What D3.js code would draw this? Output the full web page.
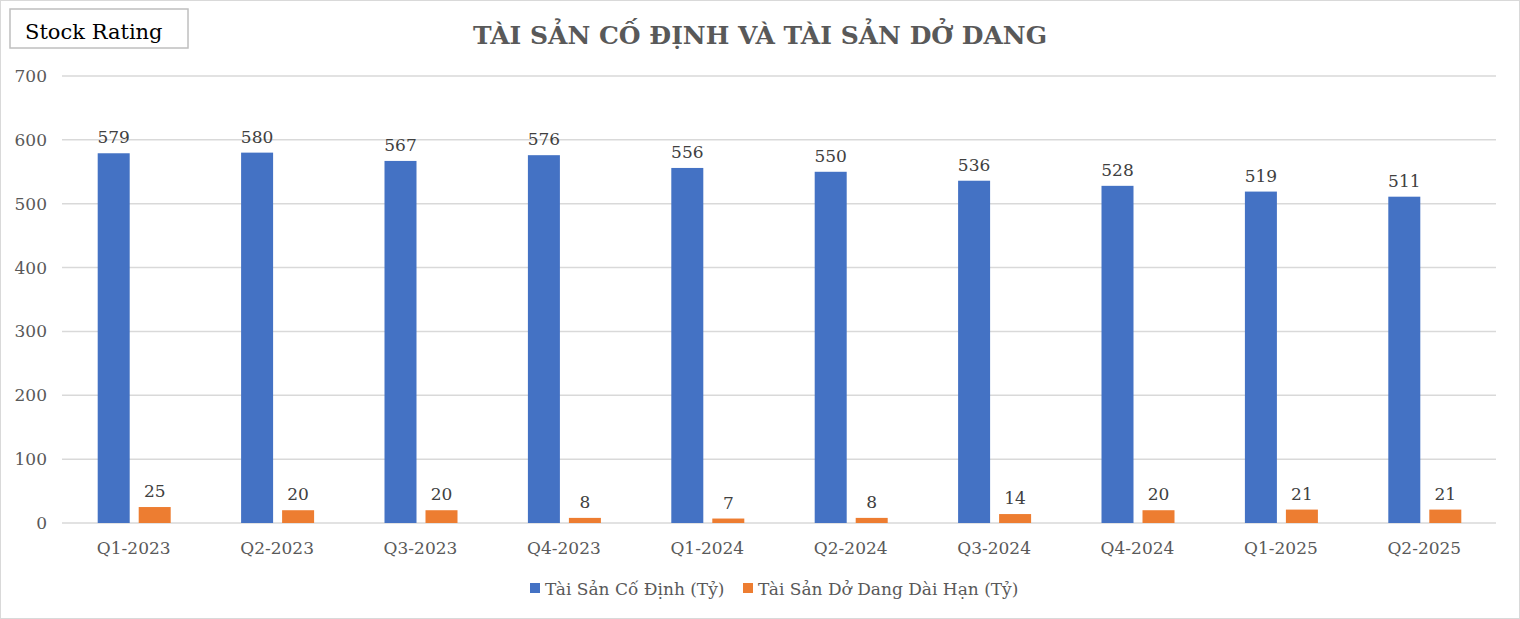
<!DOCTYPE html>
<html><head><meta charset="utf-8">
<script src="https://cdn.jsdelivr.net/npm/d3@7"></script>
<style>body{margin:0;background:#fff}svg{display:block}text{font-family:"DejaVu Serif","Liberation Serif",serif}</style>
</head><body><svg id="c" width="1520" height="619"></svg>
<script>
const categories=["Q1-2023","Q2-2023","Q3-2023","Q4-2023","Q1-2024","Q2-2024","Q3-2024","Q4-2024","Q1-2025","Q2-2025"];
const fixedAssets=[579,580,567,576,556,550,536,528,519,511];
const wipAssets=[25,20,20,8,7,8,14,20,21,21];
const yTicks=[0,100,200,300,400,500,600,700];
const seriesNames=["Tài Sản Cố Định (Tỷ)","Tài Sản Dở Dang Dài Hạn (Tỷ)"];
const colors=["#4472C4","#ED7D31"];

const svg=d3.select("#c");
svg.append("rect").attr("x",0.5).attr("y",0.5).attr("width",1519).attr("height",618).attr("fill","#fff").attr("stroke","#d9d9d9");
svg.append("rect").attr("x",10).attr("y",9).attr("width",178).attr("height",39).attr("fill","#fff").attr("stroke","#bfbfbf").attr("stroke-width",1.5);
svg.append("text").attr("x",25).attr("y",39).attr("font-size",21).attr("font-family","Liberation Serif").attr("fill","#000").text("Stock Rating");
svg.append("text").attr("x",760).attr("y",44).attr("text-anchor","middle").attr("font-size",25).attr("font-weight","bold").attr("font-family","Liberation Serif").attr("fill","#595959").text("TÀI SẢN CỐ ĐỊNH VÀ  TÀI SẢN DỞ DANG");

const L=62,R=1496,T=76,B=523;
const x=d3.scaleBand().domain(categories).range([L,R]);
const y=d3.scaleLinear().domain([0,700]).range([B,T]);
const g=svg.append("g");
yTicks.forEach(t=>{
 g.append("line").attr("x1",L).attr("x2",R).attr("y1",y(t)).attr("y2",y(t)).attr("stroke","#d9d9d9").attr("stroke-width",1.5);
 g.append("text").attr("x",47).attr("y",y(t)+6).attr("text-anchor","end").attr("font-size",17).attr("fill","#595959").text(t);
});
const bw=32;
const series=[fixedAssets,wipAssets];
series.forEach((vals,si)=>{
 const off=si===0?-36:5;
 categories.forEach((c,i)=>{
  const cx=x(c)+x.bandwidth()/2;
  g.append("rect").attr("x",cx+off).attr("width",bw).attr("y",y(vals[i])).attr("height",y(0)-y(vals[i])).attr("fill",colors[si]);
  g.append("text").attr("x",cx+off+bw/2).attr("y",y(vals[i])-10).attr("text-anchor","middle").attr("font-size",17).attr("fill","#404040").text(vals[i]);
 });
});
categories.forEach(c=>{
 g.append("text").attr("x",x(c)+x.bandwidth()/2).attr("y",554).attr("text-anchor","middle").attr("font-size",17).attr("fill","#595959").text(c);
});
const leg=[[530,seriesNames[0]],[743,seriesNames[1]]];
leg.forEach(([lx,t],i)=>{
 svg.append("rect").attr("x",lx).attr("y",583).attr("width",10).attr("height",10).attr("fill",colors[i]);
 svg.append("text").attr("x",lx+15).attr("y",595).attr("font-size",17).attr("fill","#595959").text(t);
});
</script></body></html>
